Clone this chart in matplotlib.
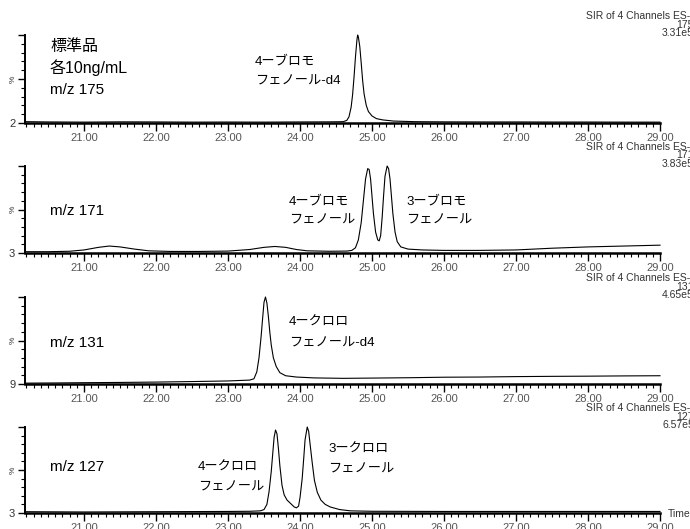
import numpy as np
import matplotlib.pyplot as plt
from matplotlib.ticker import MultipleLocator, FixedLocator

plt.rcParams['font.family'] = ['Liberation Sans', 'Noto Sans CJK JP']

# trace 1 : m/z 175
t175 = [20.2, 20.5, 21.0, 21.5, 22.0, 22.5, 23.0, 23.5, 24.0, 24.4, 24.60, 24.65, 24.68, 24.71, 24.73,
        24.75, 24.77, 24.79, 24.80, 24.81, 24.83, 24.85, 24.87, 24.89, 24.92, 24.95, 25.00, 25.06,
        25.15, 25.30, 25.6, 26.0, 26.5, 27.0, 27.5, 28.0, 28.5, 29.0]
i175 = [1.5, 1.2, 1.0, 1.3, 1.2, 1.0, 1.1, 1.0, 1.2, 1.3, 1.5, 3, 7, 18, 32,
        52, 75, 94, 100, 98, 87, 68, 48, 33, 20, 13, 8, 5,
        3.5, 2.2, 1.5, 1.3, 1.2, 1.2, 1.1, 1.1, 1.0, 1.0]

# trace 2 : m/z 171
t171 = [20.2, 20.5, 20.8, 21.0, 21.2, 21.35, 21.5, 21.7, 21.9, 22.2, 22.6, 23.0, 23.3, 23.5, 23.65,
        23.8, 23.95, 24.1, 24.4, 24.65, 24.72, 24.77, 24.81, 24.85, 24.88, 24.91, 24.94, 24.96,
        24.98, 25.00, 25.02, 25.05, 25.08, 25.10, 25.12, 25.14, 25.16, 25.18, 25.21, 25.23, 25.25,
        25.27, 25.29, 25.32, 25.35, 25.40, 25.5, 25.7, 26.0, 26.5, 27.0, 27.5, 28.0, 28.5, 29.0]
i171 = [1.5, 1.5, 2.0, 3.5, 6.5, 8, 7, 4.5, 2.5, 1.8, 1.8, 2.2, 4, 6.5, 7.5,
        6.5, 4, 2.5, 2, 2.2, 3, 6, 15, 35, 60, 85, 97, 96,
        85, 65, 45, 24, 15, 14, 20, 40, 65, 88, 100, 97, 85,
        65, 45, 24, 13, 7, 4.5, 3.5, 3, 3, 3.5, 5.5, 7, 8, 9]

# trace 3 : m/z 131
t131 = [20.2, 20.6, 21.0, 21.5, 22.0, 22.5, 23.0, 23.3, 23.36, 23.40, 23.43, 23.46, 23.48, 23.50,
        23.52, 23.54, 23.56, 23.58, 23.60, 23.63, 23.67, 23.72, 23.80, 23.95, 24.2, 24.6, 25.0,
        25.5, 26.0, 26.5, 27.0, 27.5, 28.0, 28.5, 29.0]
i131 = [1, 1.2, 1.5, 1.8, 2.2, 2.8, 3.5, 4.5, 6, 14, 30, 55, 75, 94,
        100, 93, 78, 60, 45, 30, 20, 13, 9.5, 8, 7, 6.5, 6.8,
        7.2, 7.8, 8, 8.5, 8.8, 9, 9.3, 9.5]

# trace 4 : m/z 127
t127 = [20.2, 21.0, 22.0, 23.0, 23.3, 23.45, 23.50, 23.54, 23.57, 23.60, 23.62, 23.64, 23.66, 23.68,
        23.70, 23.72, 23.75, 23.78, 23.82, 23.87, 23.92, 23.95, 23.98, 24.00, 24.03, 24.05, 24.07,
        24.10, 24.12, 24.14, 24.17, 24.20, 24.24, 24.29, 24.35, 24.42, 24.55, 24.7, 25.0, 26.0,
        27.0, 28.0, 29.0]
i127 = [1.5, 1.2, 1.5, 1.8, 2, 2.5, 4, 10, 25, 48, 68, 88, 96.5, 92,
        75, 55, 32, 21, 15, 11, 7, 6, 8, 18, 40, 62, 85,
        100, 95, 80, 58, 38, 24, 15, 10, 7, 4, 2.5, 2, 1.8,
        1.8, 1.8, 1.8]

baseLabels = ['2', '3', '9', '3']
mzLabels = ['m/z 175', 'm/z 171', 'm/z 131', 'm/z 127']
channels = ['175', '171', '131', '127']
scales = ['3.31e5', '3.83e5', '4.65e5', '6.57e5']
traces = [(t175, i175), (t171, i171), (t131, i131), (t127, i127)]

W, H = 690, 529
fig = plt.figure(figsize=(W/100, H/100), dpi=100)

def px(x, y):
	return x/W, 1 - y/H

# [top, baseline] of each panel in pixels
panels = [(35, 123), (166, 253), (297, 384), (427, 513)]
mzY = [90, 211, 343, 467] #altura do texto m/z
left, right = 25, 660

axes = []
for k in range(4):
	top, base = panels[k]
	ax = fig.add_axes([left/W, 1 - base/H, (right-left)/W, (base-top)/H])
	t, v = traces[k]
	ax.plot(t, v, color='black', lw=0.8, clip_on=False)
	ax.set_xlim(20.18, 29.0)
	ax.set_ylim(0, 100)
	for s in ['top', 'right']:
		ax.spines[s].set_visible(False)
	ax.spines['bottom'].set_linewidth(1.8)
	ax.spines['left'].set_linewidth(1.4)
	ax.xaxis.set_major_locator(FixedLocator(np.arange(21, 30)))
	ax.xaxis.set_minor_locator(MultipleLocator(0.1))
	ax.set_xticklabels(['%.2f' % x for x in np.arange(21, 30)])
	ax.tick_params(axis='x', which='major', length=6, width=1, labelsize=8, labelcolor='#555555', pad=1)
	ax.tick_params(axis='x', which='minor', length=3, width=0.8)
	ax.yaxis.set_major_locator(FixedLocator([0, 50, 100]))
	ax.yaxis.set_minor_locator(MultipleLocator(10))
	ax.set_yticklabels([baseLabels[k], '', ''])
	ax.tick_params(axis='y', which='major', length=5, width=1, labelsize=8, labelcolor='#333333', pad=2)
	ax.tick_params(axis='y', which='minor', length=3, width=0.8)
	ax.set_facecolor('none')
	axes.append(ax)

	# % sign
	fig.text(*px(13, (top + base)/2), '%', rotation=90, fontsize=6, ha='center', va='center', color='#333333')
	# header at the top right, cut at the figure edge
	fig.text(*px(690, top - 19), 'SIR of 4 Channels ES-', fontsize=7.5, ha='right', va='center', color='#333333')
	fig.text(*px(694, top - 10.5), channels[k], fontsize=7.5, ha='right', va='center', color='#333333')
	fig.text(*px(694, top - 2), scales[k], fontsize=7.5, ha='right', va='center', color='#333333')
	# m/z label
	fig.text(*px(50, mzY[k]), mzLabels[k], fontsize=11, ha='left', va='center')

# extra labels
fig.text(*px(50, 47), '標準品', fontsize=11.5, ha='left', va='center')
fig.text(*px(50, 68), '各10ng/mL', fontsize=11.5, ha='left', va='center')

fig.text(*px(255, 62), '4ーブロモ', fontsize=9.5, ha='left', va='center')
fig.text(*px(255, 82), 'フェノール-d4', fontsize=9.5, ha='left', va='center')

fig.text(*px(289, 202), '4ーブロモ', fontsize=9.5, ha='left', va='center')
fig.text(*px(289, 221), 'フェノール', fontsize=9.5, ha='left', va='center')
fig.text(*px(406, 202), '3ーブロモ', fontsize=9.5, ha='left', va='center')
fig.text(*px(406, 221), 'フェノール', fontsize=9.5, ha='left', va='center')

fig.text(*px(289, 323), '4ークロロ', fontsize=9.5, ha='left', va='center')
fig.text(*px(289, 344), 'フェノール-d4', fontsize=9.5, ha='left', va='center')

fig.text(*px(328, 450), '3ークロロ', fontsize=9.5, ha='left', va='center')
fig.text(*px(328, 470), 'フェノール', fontsize=9.5, ha='left', va='center')
fig.text(*px(198, 468), '4ークロロ', fontsize=9.5, ha='left', va='center')
fig.text(*px(198, 488), 'フェノール', fontsize=9.5, ha='left', va='center')

fig.text(*px(668, 514), 'Time', fontsize=7.5, ha='left', va='center', color='#333333')

plt.savefig('out.png', dpi=100)
